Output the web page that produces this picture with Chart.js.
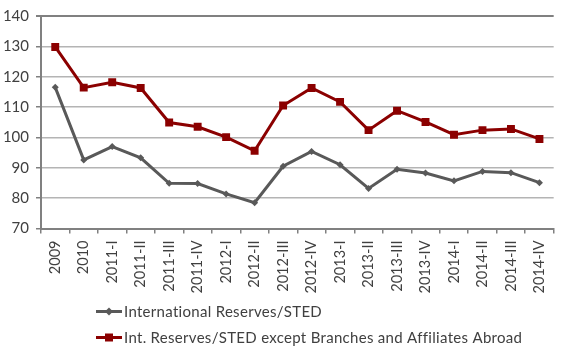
<!DOCTYPE html>
<html>
<head>
<meta charset="utf-8">
<script src="https://cdn.jsdelivr.net/npm/chart.js@4"></script>
<style>
html,body{margin:0;padding:0;background:#fff;}
#wrap{width:564px;height:349px;position:relative;}
</style>
</head>
<body>
<div id="wrap"><canvas id="c" width="564" height="349"></canvas></div>
<script>
const categories = ["2009","2010","2011-I","2011-II","2011-III","2011-IV","2012-I","2012-II","2012-III","2012-IV","2013-I","2013-II","2013-III","2013-IV","2014-I","2014-II","2014-III","2014-IV"];
const intlReserves = [116.5, 92.6, 97.0, 93.3, 84.9, 84.8, 81.4, 78.5, 90.5, 95.4, 91.0, 83.2, 89.5, 88.3, 85.7, 88.8, 88.4, 85.1];
const intReservesExBranches = [129.8, 116.4, 118.2, 116.3, 104.9, 103.5, 100.1, 95.6, 110.5, 116.3, 111.7, 102.4, 108.8, 105.1, 100.9, 102.4, 102.8, 99.5];
const seriesNames = ["International Reserves/STED", "Int. Reserves/STED except Branches and Affiliates Abroad"];
const yTicks = [70, 80, 90, 100, 110, 120, 130, 140];

const FONT = "Lato";
const TXT = "#404040";

const legendPlugin = {
  id: 'customLegend',
  afterDraw(chart) {
    const ctx = chart.ctx;
    const rows = [311.5, 337.5];
    chart.data.datasets.forEach((ds, i) => {
      const y = rows[i];
      const x0 = 96, x1 = 122, xm = 109;
      ctx.save();
      ctx.strokeStyle = ds.borderColor;
      ctx.lineWidth = 3;
      ctx.beginPath(); ctx.moveTo(x0, y); ctx.lineTo(x1, y); ctx.stroke();
      ctx.fillStyle = ds.borderColor;
      ctx.beginPath();
      if (ds.pointStyle === 'rect') {
        ctx.rect(xm - 4, y - 4, 8, 8);
      } else {
        ctx.moveTo(xm - 4, y); ctx.lineTo(xm, y - 4); ctx.lineTo(xm + 4, y); ctx.lineTo(xm, y + 4); ctx.closePath();
      }
      ctx.fill();
      ctx.fillStyle = TXT;
      ctx.font = "15px " + FONT;
      try { ctx.letterSpacing = "0.3px"; } catch (e) {}
      ctx.textBaseline = 'middle';
      ctx.textAlign = 'left';
      ctx.fillText(ds.label, 124, y + 1);
      ctx.restore();
    });
  }
};

new Chart(document.getElementById('c'), {
  type: 'line',
  data: {
    labels: categories,
    datasets: [
      {
        label: seriesNames[0],
        data: intlReserves,
        borderColor: '#595959',
        backgroundColor: '#595959',
        borderWidth: 3,
        pointStyle: 'rectRot',
        pointRadius: 3.5,
        pointBorderWidth: 0,
        tension: 0
      },
      {
        label: seriesNames[1],
        data: intReservesExBranches,
        borderColor: '#8b0000',
        backgroundColor: '#8b0000',
        borderWidth: 3,
        pointStyle: 'rect',
        pointRadius: 5.6,
        pointBorderWidth: 0,
        tension: 0
      }
    ]
  },
  options: {
    responsive: false,
    animation: false,
    devicePixelRatio: 1,
    layout: { padding: { top: 9, right: 3, left: 0, bottom: 0 } },
    plugins: { legend: { display: false }, tooltip: { enabled: false } },
    scales: {
      x: {
        offset: true,
        grid: { drawOnChartArea: false, drawTicks: true, tickLength: 5, color: '#808080', lineWidth: 1.5, offset: true },
        border: { display: true, color: '#808080', width: 2 },
        ticks: { color: TXT, font: { family: FONT, size: 14.5 }, maxRotation: 90, minRotation: 90, padding: 7, autoSkip: false },
        afterFit(scale) { scale.height = 120.5; }
      },
      y: {
        min: 70, max: 140,
        afterBuildTicks(scale) { scale.ticks = yTicks.map(v => ({ value: v })); },
        grid: {
          color: (c) => (c.tick && c.tick.value === 140) ? '#808080' : '#b4b4b4',
          lineWidth: (c) => (c.tick && c.tick.value === 140) ? 2 : 1.5,
          tickLength: 5,
          tickColor: '#808080'
        },
        border: { display: true, color: '#808080', width: 2 },
        ticks: { color: TXT, font: { family: FONT, size: 15 }, padding: 7, stepSize: 10 },
        afterFit(scale) { scale.width = 41; }
      }
    }
  },
  plugins: [legendPlugin]
});
</script>
</body>
</html>
